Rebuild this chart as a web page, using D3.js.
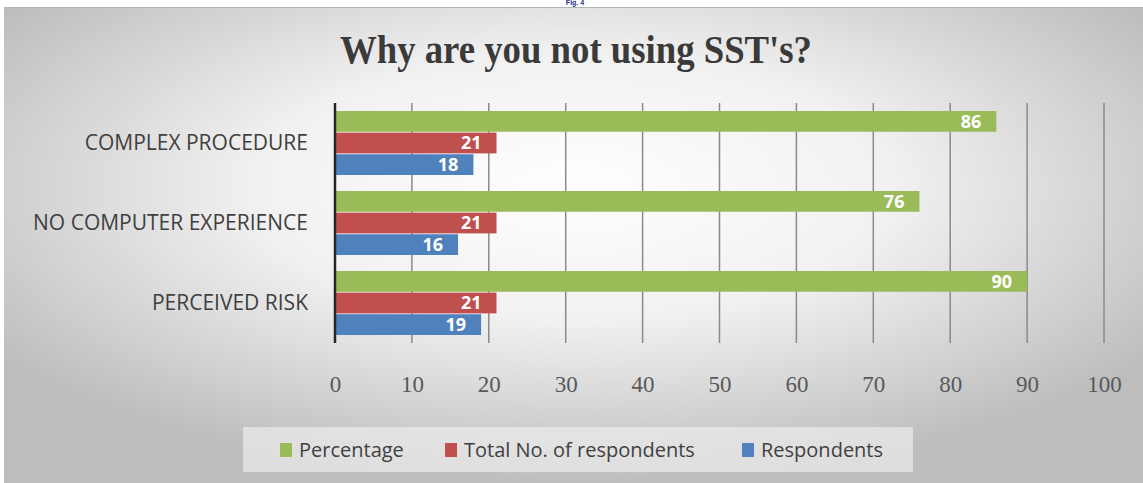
<!DOCTYPE html>
<html>
<head>
<meta charset="utf-8">
<script src="https://cdn.jsdelivr.net/npm/d3@7/dist/d3.min.js"></script>
<style>
  html, body { margin: 0; padding: 0; background: #ffffff; }
  svg { display: block; }
</style>
</head>
<body>
<svg id="chart" width="1143" height="483"></svg>
<script>
// Survey answers: reasons for not using self-service technologies
const categories = ["COMPLEX PROCEDURE", "NO COMPUTER EXPERIENCE", "PERCEIVED RISK"];
const seriesNames = ["Percentage", "Total No. of respondents", "Respondents"];
const percentage = [86, 76, 90];
const totalRespondents = [21, 21, 21];
const respondents = [18, 16, 19];
const seriesColors = ["#9bbb59", "#c0504d", "#4f81bd"];
const xTicks = [0, 10, 20, 30, 40, 50, 60, 70, 80, 90, 100];

const seriesValues = [percentage, totalRespondents, respondents];

const W = 1143, H = 483;
const svg = d3.select("#chart");
const defs = svg.append("defs");

// Soft grey vignette behind the chart
const grad = defs.append("radialGradient")
  .attr("id", "bg").attr("cx", "50%").attr("cy", "38%").attr("r", "62%")
  .attr("fx", "50%").attr("fy", "38%");
grad.append("stop").attr("offset", "0%").attr("stop-color", "#ffffff");
grad.append("stop").attr("offset", "45%").attr("stop-color", "#f1f1f1");
grad.append("stop").attr("offset", "100%").attr("stop-color", "#bdbdbd");

svg.append("rect")
  .attr("x", 4).attr("y", 7).attr("width", W - 4).attr("height", H - 7)
  .attr("fill", "url(#bg)");
svg.append("line")
  .attr("x1", 4).attr("x2", W).attr("y1", 7.5).attr("y2", 7.5)
  .attr("stroke", "#b5b5b5").attr("stroke-width", 1);

// Figure caption in the strip above the chart frame
svg.append("text")
  .attr("x", 575).attr("y", 5)
  .attr("text-anchor", "middle")
  .attr("font-family", "Liberation Sans, Arial, sans-serif")
  .attr("font-weight", "bold")
  .attr("font-size", 7)
  .attr("fill", "#1f2f8f")
  .text("Fig. 4");

// Title
svg.append("text")
  .attr("x", 576).attr("y", 63)
  .attr("text-anchor", "middle")
  .attr("font-family", "Liberation Serif, Times New Roman, serif")
  .attr("font-weight", "bold")
  .attr("font-size", 40)
  .attr("fill", "#3a3a3a")
  .attr("textLength", 472)
  .attr("lengthAdjust", "spacingAndGlyphs")
  .text("Why are you not using SST's?");

// Scales
const x = d3.scaleLinear().domain([0, 100]).range([335, 1104]);
const y = d3.scaleBand().domain(categories).range([103, 343])
  .paddingInner(0.2).paddingOuter(0.1);
const ySub = d3.scaleBand().domain(seriesNames).range([0, y.bandwidth()])
  .paddingInner(0.04);

// Vertical gridlines
svg.append("g")
  .selectAll("line")
  .data(xTicks.filter(d => d > 0))
  .join("line")
  .attr("x1", d => x(d)).attr("x2", d => x(d))
  .attr("y1", 103).attr("y2", 343)
  .attr("stroke", "#8a8a8a").attr("stroke-width", 1.5);

// X axis tick labels
const xAxis = d3.axisBottom(x).tickValues(xTicks).tickSize(0).tickPadding(0);
const gx = svg.append("g").attr("transform", "translate(0,376)").call(xAxis);
gx.select(".domain").remove();
gx.selectAll("text")
  .attr("dy", "0.71em")
  .attr("font-family", "Liberation Serif, Times New Roman, serif")
  .attr("font-size", 23)
  .attr("fill", "#595959");

// Bars
const rows = [];
categories.forEach((c, i) => {
  seriesNames.forEach((s, j) => {
    rows.push({ cat: c, series: s, value: seriesValues[j][i], color: seriesColors[j] });
  });
});

const bars = svg.append("g");
bars.selectAll("rect")
  .data(rows)
  .join("rect")
  .attr("x", x(0))
  .attr("y", d => y(d.cat) + ySub(d.series))
  .attr("width", d => x(d.value) - x(0))
  .attr("height", ySub.bandwidth())
  .attr("fill", d => d.color);

// Value labels inside bar ends
bars.selectAll("text")
  .data(rows)
  .join("text")
  .attr("x", d => x(d.value) - 15)
  .attr("y", d => y(d.cat) + ySub(d.series) + ySub.bandwidth() / 2)
  .attr("dy", "0.36em")
  .attr("text-anchor", "end")
  .attr("font-family", "Open Sans, sans-serif")
  .attr("font-weight", "bold")
  .attr("font-size", 18)
  .attr("fill", "#ffffff")
  .text(d => d.value);

// Category axis
const yAxis = d3.axisLeft(y).tickSize(0).tickPadding(27);
const gy = svg.append("g").attr("transform", `translate(${x(0)},0)`).call(yAxis);
gy.select(".domain").remove();
gy.selectAll("text")
  .attr("font-family", "Open Sans, sans-serif")
  .attr("font-size", 21)
  .attr("fill", "#404040");
svg.append("line")
  .attr("x1", x(0)).attr("x2", x(0)).attr("y1", 103).attr("y2", 343)
  .attr("stroke", "#262626").attr("stroke-width", 2.5);

// Legend
const legend = svg.append("g");
legend.append("rect")
  .attr("x", 243).attr("y", 427).attr("width", 670).attr("height", 45)
  .attr("fill", "#ececec").attr("fill-opacity", 0.7);
const legendX = [280, 445, 742];
const items = legend.selectAll("g.item")
  .data(seriesNames.map((s, j) => ({ name: s, color: seriesColors[j], x: legendX[j] })))
  .join("g").attr("class", "item")
  .attr("transform", d => `translate(${d.x},0)`);
items.append("rect")
  .attr("x", 0).attr("y", 443).attr("width", 12).attr("height", 14)
  .attr("fill", d => d.color);
items.append("text")
  .attr("x", 19).attr("y", 450).attr("dy", "0.36em")
  .attr("font-family", "Open Sans, sans-serif")
  .attr("font-size", 20)
  .attr("fill", "#404040")
  .text(d => d.name);
</script>
</body>
</html>
